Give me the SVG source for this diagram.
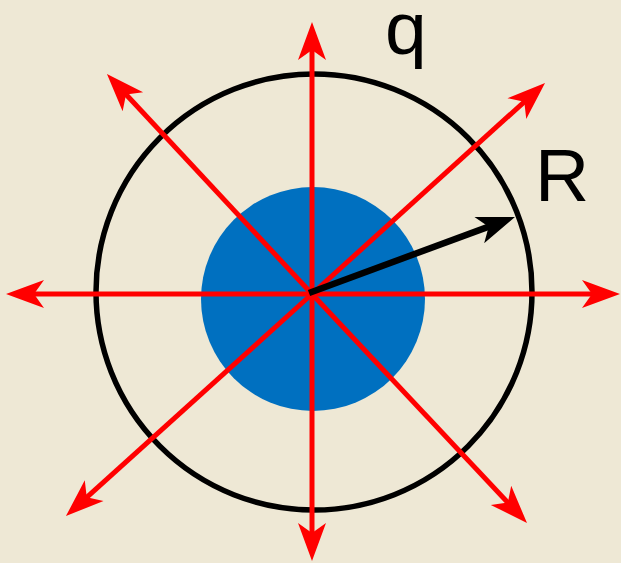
<svg xmlns="http://www.w3.org/2000/svg" width="621" height="563" viewBox="0 0 621 563">
  <style>
    .ray { stroke: #FF0000; stroke-width: 5; fill: none; marker-end: url(#redhead); }
    .lbl { font-family: "Liberation Sans", Arial, sans-serif; font-size: 75px; fill: #000000; }
  </style>
  <defs>
    <marker id="redhead" markerUnits="userSpaceOnUse" viewBox="-15 -16 42 32" refX="0" refY="0" markerWidth="42" markerHeight="32" orient="auto">
      <path d="M25,0 L-13,-14 L-3,0 L-13,14 Z" fill="#FF0000"/>
    </marker>
    <marker id="blackhead" markerUnits="userSpaceOnUse" viewBox="-15 -16 42 32" refX="0" refY="0" markerWidth="42" markerHeight="32" orient="auto">
      <path d="M25,0 L-13,-14 L-3,0 L-13,14 Z" fill="#000000"/>
    </marker>
  </defs>
  <rect x="0" y="0" width="621" height="563" fill="#EEE8D5"/>
  <g id="charge">
    <circle cx="313" cy="299" r="112" fill="#0070C0"/>
  </g>
  <g id="surface">
    <circle cx="314" cy="292" r="218" fill="none" stroke="#000000" stroke-width="5.5"/>
  </g>
  <g id="connectors">
    <line class="ray" x1="312" y1="294" x2="312" y2="47"/>
    <line class="ray" x1="312" y1="294" x2="312" y2="536"/>
    <line class="ray" x1="312" y1="294" x2="31" y2="294"/>
    <line class="ray" x1="312" y1="294" x2="595" y2="294"/>
    <line class="ray" x1="312" y1="294" x2="124" y2="92.3"/>
    <line class="ray" x1="312" y1="294" x2="526.5" y2="99.8"/>
    <line class="ray" x1="312" y1="294" x2="84.5" y2="499.3"/>
    <line class="ray" x1="312" y1="294" x2="509.9" y2="504.8"/>
    <line x1="309" y1="293" x2="491.5" y2="225.6" stroke="#000000" stroke-width="6.5" marker-end="url(#blackhead)"/>
  </g>
  <g id="labels">
    <text class="lbl" x="385" y="54" font-size="77">q</text>
    <text class="lbl" x="535" y="201">R</text>
  </g>
</svg>
